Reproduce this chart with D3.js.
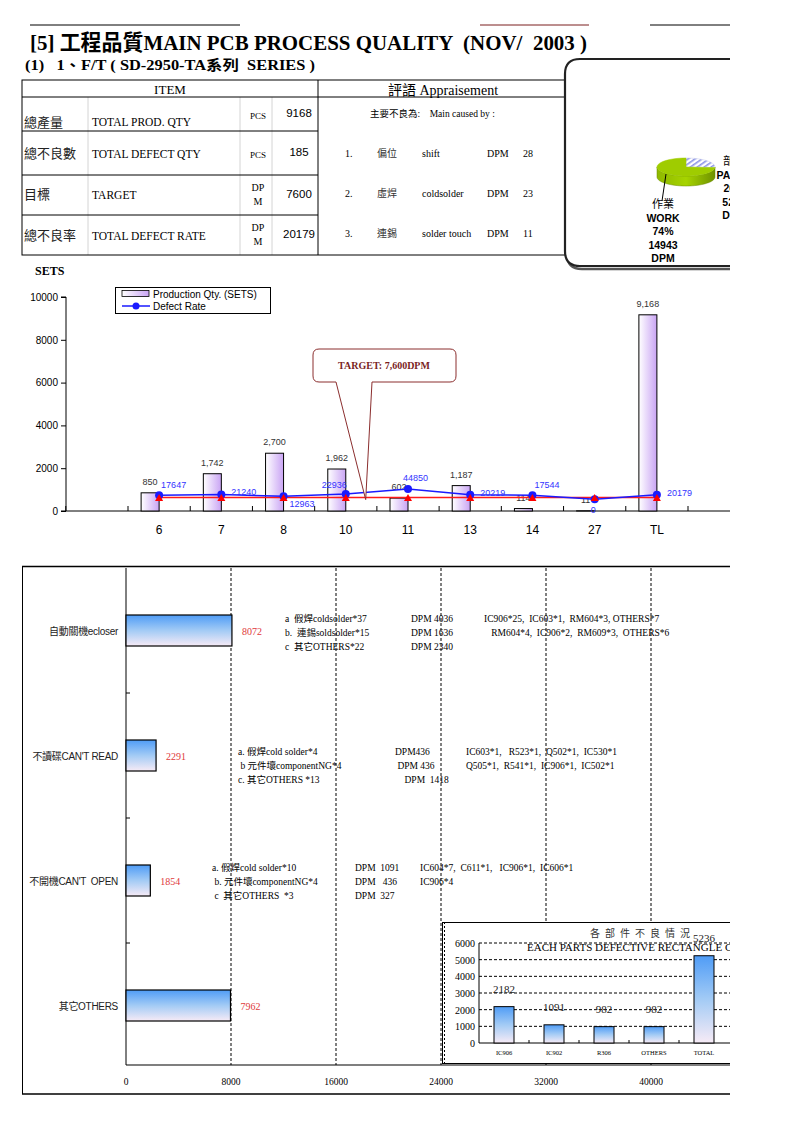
<!DOCTYPE html>
<html><head><meta charset="utf-8">
<script src="https://cdn.jsdelivr.net/npm/d3@7"></script>
<style>body{margin:0;background:#fff}svg{display:block}</style>
</head><body><svg id="c" width="793" height="1122"></svg>
<script>
// ---------- DATA ----------
const months = ["6","7","8","10","11","13","14","27","TL"];
const prodQty = [850,1742,2700,1962,602,1187,114,11,9168];
const defectRate = [17647,21240,12963,22936,44850,20219,17544,0,20179];
const targetDPM = [7600,7600,7600,7600,7600,7600,7600,7600,7600];
const qtyTicks = [0,2000,4000,6000,8000,10000];
const rateLabelSide = ["ur","r","br","ul","u","r","ur","b","r"];

const itemZh = ["總產量","總不良數","目標","總不良率"];
const itemEn = ["TOTAL PROD. QTY","TOTAL DEFECT QTY","TARGET","TOTAL DEFECT RATE"];
const itemUnit = ["PCS","PCS","DPM","DPM"];
const itemValue = ["9168","185","7600","20179"];
const causeZh = ["偏位","虛焊","連錫"];
const causeEn = ["shift","coldsolder","solder touch"];
const causeDPM = [28,23,11];

const pieNames = ["部件 PARTS","作業 WORK"];
const pieShare = [26,74];
const pieDPM = [5236,14943];

const failCats = ["自動關機ecloser","不讀碟CAN'T READ","不開機CAN'T  OPEN","其它OTHERS"];
const failDPM = [8072,2291,1854,7962];
const failTicks = [0,8000,16000,24000,32000,40000];

const partCats = ["IC906","IC902","R306","OTHERS","TOTAL"];
const partDPM = [2182,1091,982,982,5236];
const partTicks = [0,1000,2000,3000,4000,5000,6000];

const notes1 = [
  ["a  假焊coldsolder*37","DPM 4036","IC906*25,  IC603*1,  RM604*3, OTHERS*7"],
  ["b.  連錫soldsolder*15","DPM 1636","   RM604*4,  IC906*2,  RM609*3,  OTHERS*6"],
  ["c  其它OTHERS*22","DPM 2340",""]];
const notes2 = [
  ["a. 假焊cold solder*4","DPM436","IC603*1,   R523*1,  Q502*1,  IC530*1"],
  [" b 元件壞componentNG*4"," DPM 436","Q505*1,  R541*1,  IC906*1,  IC502*1"],
  ["c. 其它OTHERS *13","    DPM  1418",""]];
const notes3 = [
  ["a. 假焊cold solder*10","DPM  1091","IC604*7,  C611*1,   IC906*1,  IC606*1"],
  [" b. 元件壞componentNG*4","DPM   436","IC906*4"],
  [" c  其它OTHERS  *3","DPM  327",""]];

// ---------- SETUP ----------
const SERIF = "'Liberation Serif','Times New Roman','Noto Sans CJK TC',serif";
const SANS = "'Liberation Sans',Arial,'Noto Sans CJK TC',sans-serif";
const svg = d3.select("#c");
const defs = svg.append("defs");
defs.append("clipPath").attr("id","page").append("rect").attr("x",0).attr("y",0).attr("width",730).attr("height",1122);
defs.append("clipPath").attr("id","touch").append("rect").attr("x",300).attr("y",0).attr("width",182).attr("height",300);

const pg = defs.append("linearGradient").attr("id","purp").attr("x1",0).attr("y1",0).attr("x2",1).attr("y2",0);
pg.append("stop").attr("offset",0).attr("stop-color","#ffffff");
pg.append("stop").attr("offset",1).attr("stop-color","#c9a4f4");
const bg = defs.append("linearGradient").attr("id","blue").attr("x1",0).attr("y1",0).attr("x2",0).attr("y2",1);
bg.append("stop").attr("offset",0).attr("stop-color","#4f9cf6");
bg.append("stop").attr("offset",0.5).attr("stop-color","#a3cbf5");
bg.append("stop").attr("offset",1).attr("stop-color","#f7ebf6");
const gg = defs.append("linearGradient").attr("id","green").attr("x1",0).attr("y1",0).attr("x2",1).attr("y2",0);
gg.append("stop").attr("offset",0).attr("stop-color","#8fb800");
gg.append("stop").attr("offset",0.5).attr("stop-color","#a6d400");
gg.append("stop").attr("offset",1).attr("stop-color","#6f9200");
const hp = defs.append("pattern").attr("id","hatch").attr("patternUnits","userSpaceOnUse")
  .attr("width",4).attr("height",4).attr("patternTransform","rotate(-35)");
hp.append("rect").attr("width",4).attr("height",4).attr("fill","#fff");
hp.append("rect").attr("width",4).attr("height",1.6).attr("fill","#8b93e6");

const g = svg.append("g").attr("clip-path","url(#page)");
g.append("rect").attr("width",793).attr("height",1122).attr("fill","#fff");

// ---------- HEADER ----------
g.append("line").attr("x1",30).attr("x2",240).attr("y1",25).attr("y2",25).attr("stroke","#000");
g.append("line").attr("x1",480).attr("x2",589).attr("y1",25).attr("y2",25).attr("stroke","#7a1f1f");
g.append("line").attr("x1",650).attr("x2",730).attr("y1",25).attr("y2",25).attr("stroke","#000");
g.append("text").attr("x",30).attr("y",50).attr("font-family",SERIF).attr("font-weight","bold")
  .attr("font-size",21.5).attr("textLength",557).attr("lengthAdjust","spacingAndGlyphs").attr("xml:space","preserve")
  .text("[5] 工程品質MAIN PCB PROCESS QUALITY  (NOV/  2003 )");
g.append("text").attr("x",25).attr("y",70).attr("font-family",SERIF).attr("font-weight","bold")
  .attr("font-size",14).attr("textLength",290).attr("lengthAdjust","spacingAndGlyphs").attr("xml:space","preserve")
  .text("(1)   1、F/T ( SD-2950-TA系列  SERIES )");

// ---------- TABLE ----------
const rowY = [97,131,175,215,255];
const tbl = g.append("g");
[88,240,272].forEach(x=>tbl.append("line").attr("x1",x).attr("x2",x).attr("y1",97).attr("y2",255).attr("stroke","#d4d4d4"));
tbl.append("rect").attr("x",22).attr("y",80).attr("width",545).attr("height",175).attr("fill","none").attr("stroke","#000");
tbl.append("line").attr("x1",22).attr("x2",567).attr("y1",97).attr("y2",97).attr("stroke","#000");
tbl.append("line").attr("x1",318).attr("x2",318).attr("y1",80).attr("y2",255).attr("stroke","#000");
rowY.slice(1,4).forEach(y=>tbl.append("line").attr("x1",22).attr("x2",318).attr("y1",y).attr("y2",y).attr("stroke","#000"));
tbl.append("text").attr("x",170).attr("y",94).attr("text-anchor","middle").attr("font-family",SERIF).attr("font-size",13).text("ITEM");
tbl.append("text").attr("x",443).attr("y",95).attr("text-anchor","middle").attr("font-family",SERIF).attr("font-size",14).text("評語 Appraisement");
const zhY = [127,158,199,240], enY=[126,158,199,240], valY=[117,156,198,238];
itemZh.forEach((t,i)=>{
  tbl.append("text").attr("x",24).attr("y",zhY[i]).attr("font-family",SERIF).attr("font-size",13).attr("fill","#222").text(t);
  tbl.append("text").attr("x",92).attr("y",enY[i]).attr("font-family",SERIF).attr("font-size",11.5).text(itemEn[i]);
  if(itemUnit[i]==="PCS"){
    tbl.append("text").attr("x",258).attr("y",valY[i]+2).attr("text-anchor","middle").attr("font-family",SERIF).attr("font-size",9).text("PCS");
  } else {
    tbl.append("text").attr("x",258).attr("y",valY[i]-7).attr("text-anchor","middle").attr("font-family",SERIF).attr("font-size",10).text("DP");
    tbl.append("text").attr("x",258).attr("y",valY[i]+7).attr("text-anchor","middle").attr("font-family",SERIF).attr("font-size",10).text("M");
  }
  tbl.append("text").attr("x",299).attr("y",valY[i]).attr("text-anchor","middle").attr("font-family",SANS).attr("font-size",11.5).text(itemValue[i]);
});
tbl.append("text").attr("x",370).attr("y",117).attr("font-family",SERIF).attr("font-size",9.5).attr("xml:space","preserve").text("主要不良為:    Main caused by :");
const cY=[157,197,237];
causeZh.forEach((t,i)=>{
  tbl.append("text").attr("x",345).attr("y",cY[i]).attr("font-family",SERIF).attr("font-size",10).text((i+1)+".");
  tbl.append("text").attr("x",377).attr("y",cY[i]).attr("font-family",SERIF).attr("font-size",10).attr("fill","#333").text(t);
  tbl.append("text").attr("x",422).attr("y",cY[i]).attr("font-family",SERIF).attr("font-size",10).attr("clip-path","url(#touch)").text(causeEn[i]);
  tbl.append("text").attr("x",487).attr("y",cY[i]).attr("font-family",SERIF).attr("font-size",10).text("DPM");
  tbl.append("text").attr("x",523).attr("y",cY[i]).attr("font-family",SERIF).attr("font-size",10).text(causeDPM[i]);
});

// ---------- PIE BOX ----------
const boxPath = "M565,74 Q565,59 580,59 L800,59 L800,266 L580,266 Q565,266 565,251 Z";
g.append("path").attr("d",boxPath).attr("transform","translate(2,3)").attr("fill","none").attr("stroke","#555").attr("stroke-width",2.5);
g.append("path").attr("d",boxPath).attr("fill","#fff").attr("stroke","#222").attr("stroke-width",2.2);

const pcx=686, pcy=167, prx=29, pry=9, pdep=10;
const arcs = d3.pie().sort(null).value(d=>d)(pieShare);
const ept = (a,dy)=>[pcx+prx*Math.sin(a), pcy-pry*Math.cos(a)+(dy||0)];
{
  const pts=[];
  for(let a=Math.PI/2;a<=Math.PI*1.5+1e-6;a+=Math.PI/60) pts.push(ept(a,0));
  const bot=[];
  for(let a=Math.PI*1.5;a>=Math.PI/2-1e-6;a-=Math.PI/60) bot.push(ept(a,pdep));
  g.append("path").attr("d","M"+pts.map(p=>p.join(",")).join("L")+"L"+bot.map(p=>p.join(",")).join("L")+"Z")
   .attr("fill","url(#green)").attr("stroke","#6a8a00").attr("stroke-width",0.5);
}
arcs.forEach((a,i)=>{
  const pts=[[pcx,pcy]];
  const n=40;
  for(let k=0;k<=n;k++){const t=a.startAngle+(a.endAngle-a.startAngle)*k/n; pts.push(ept(t));}
  g.append("path").attr("d","M"+pts.map(p=>p.join(",")).join("L")+"Z")
   .attr("fill", i===0?"url(#hatch)":"#9fcc00").attr("stroke", i===0?"#c7cbe8":"#9fcc00").attr("stroke-width",0.5);
});
g.append("line").attr("x1",662).attr("y1",201).attr("x2",666).attr("y2",174).attr("stroke","#000");
const pieLbl = (x,y,i)=>{
  const parts = pieNames[i].split(" ");
  const lines = [[parts[0],"normal"],[parts[1],"bold"],[pieShare[i]+"%","bold"],[String(pieDPM[i]),"bold"],["DPM","bold"]];
  lines.forEach((l,k)=>g.append("text").attr("x",x).attr("y",y+k*13.5).attr("text-anchor","middle")
    .attr("font-family",SANS).attr("font-size",k===0?11:10.5).attr("font-weight",l[1]).text(l[0]));
};
pieLbl(663,208,1);
pieLbl(734,165,0);

// ---------- MIDDLE CHART ----------
const xM = d3.scaleBand().domain(months).range([128,688]).padding(0);
const stepM = xM.step();
const yM = d3.scaleLinear().domain([0,10000]).range([511,297]);
const yR = d3.scaleLinear().domain([-50000,870000]).range([511,297]);
const mc = g.append("g");
mc.append("text").attr("x",35).attr("y",275).attr("font-family",SERIF).attr("font-weight","bold").attr("font-size",12).text("SETS");
const yAx = mc.append("g").attr("transform","translate(66,0)").call(d3.axisLeft(yM).tickValues(qtyTicks).tickSize(5).tickFormat(d3.format("d")));
yAx.selectAll("text").attr("font-family",SANS).attr("font-size",10).attr("fill","#000");
yAx.select(".domain").attr("d","M-5,297H0V511H-5").attr("stroke","#000");
mc.append("line").attr("x1",66).attr("x2",730).attr("y1",511).attr("y2",511).attr("stroke","#000");
for(let i=-1;i<=months.length+1;i++){
  const bx = xM.range()[0]+i*stepM;
  mc.append("line").attr("x1",bx).attr("x2",bx).attr("y1",511).attr("y2",506).attr("stroke","#000");
}
months.forEach(m=>mc.append("text").attr("x",xM(m)+stepM/2).attr("y",534).attr("text-anchor","middle")
  .attr("font-family",SANS).attr("font-size",12).text(m));
const barW=18;
mc.selectAll(".pb").data(prodQty).join("rect")
  .attr("x",(d,i)=>xM(months[i])+stepM/2-barW).attr("width",barW)
  .attr("y",d=>yM(d)).attr("height",d=>yM(0)-yM(d))
  .attr("fill","url(#purp)").attr("stroke","#000").attr("stroke-width",1);
mc.selectAll(".pl").data(prodQty).join("text")
  .attr("x",(d,i)=>xM(months[i])+stepM/2-barW/2).attr("y",d=>yM(d)-8).attr("text-anchor","middle")
  .attr("font-family",SANS).attr("font-size",9).attr("fill","#333").text(d=>d3.format(",")(d));
const cxM = (i)=>xM(months[i])+stepM/2;
mc.append("path").datum(targetDPM).attr("d",d3.line().x((d,i)=>cxM(i)).y(d=>yR(d)))
  .attr("fill","none").attr("stroke","#ff1a1a").attr("stroke-width",1.5);
mc.append("path").datum(defectRate).attr("d",d3.line().x((d,i)=>cxM(i)).y(d=>yR(d)))
  .attr("fill","none").attr("stroke","#1a1aff").attr("stroke-width",1.5);
mc.selectAll(".dc").data(defectRate).join("circle").attr("cx",(d,i)=>cxM(i)).attr("cy",d=>yR(d)).attr("r",4).attr("fill","#1a1aff");
mc.selectAll(".tt").data(targetDPM).join("path")
  .attr("transform",(d,i)=>`translate(${cxM(i)},${yR(d)+1})`)
  .attr("d",d3.symbol(d3.symbolTriangle,28)).attr("fill","#ff0000");
const off = {ur:[2,-10,"start"], r:[10,-2,"start"], br:[6,8,"start"], ul:[-24,-9,"start"], u:[-5,-11,"start"], b:[-4,11,"start"]};
mc.selectAll(".dl").data(defectRate).join("text")
  .attr("x",(d,i)=>cxM(i)+off[rateLabelSide[i]][0]).attr("y",(d,i)=>yR(d)+off[rateLabelSide[i]][1]+3)
  .attr("font-family",SANS).attr("font-size",9).attr("fill","#3333ff").text(d=>d);
const lg = mc.append("g");
lg.append("rect").attr("x",115.5).attr("y",287.5).attr("width",155).attr("height",26).attr("fill","#fff").attr("stroke","#000");
lg.append("rect").attr("x",122).attr("y",290.5).attr("width",27).attr("height",6).attr("fill","url(#purp)").attr("stroke","#000").attr("stroke-width",0.8);
lg.append("text").attr("x",153).attr("y",297.5).attr("font-family",SANS).attr("font-size",10).text("Production Qty. (SETS)");
lg.append("line").attr("x1",122).attr("x2",150).attr("y1",306).attr("y2",306).attr("stroke","#1a1aff").attr("stroke-width",1.5);
lg.append("circle").attr("cx",136).attr("cy",306).attr("r",3.5).attr("fill","#1a1aff");
lg.append("text").attr("x",153).attr("y",310).attr("font-family",SANS).attr("font-size",10).text("Defect Rate");
const tipX = cxM(3)+stepM*0.32, tipY = yR(targetDPM[0])+2;
mc.append("path").attr("d",`M336,381 L${tipX},${tipY} L372,381 Z`).attr("fill","#fff").attr("stroke","none");
mc.append("path").attr("d",`M336,382 L${tipX},${tipY} L372,382`).attr("fill","none").attr("stroke","#8b2e2e").attr("stroke-width",1);
mc.append("path").attr("d","M336,382 L319,382 Q313,382 313,376 L313,355 Q313,349 319,349 L450,349 Q456,349 456,355 L456,376 Q456,382 450,382 L372,382")
  .attr("fill","none").attr("stroke","#8b2e2e").attr("stroke-width",1);
mc.append("text").attr("x",384).attr("y",369).attr("text-anchor","middle").attr("font-family",SERIF).attr("font-weight","bold")
  .attr("font-size",10).attr("fill","#7a1f1f").text("TARGET: 7,600DPM");

// ---------- BOTTOM CHART ----------
const xF = d3.scaleLinear().domain([0,48000]).range([126,756]);
const yF = d3.scaleBand().domain(failCats).range([568,1068]);
const bc = g.append("g");
bc.append("line").attr("x1",22).attr("x2",730).attr("y1",566.5).attr("y2",566.5).attr("stroke","#000").attr("stroke-width",1.5);
bc.append("line").attr("x1",22.5).attr("x2",22.5).attr("y1",566).attr("y2",1094).attr("stroke","#000");
bc.append("line").attr("x1",22).attr("x2",730).attr("y1",1094).attr("y2",1094).attr("stroke","#000").attr("stroke-width",1.5);
failTicks.slice(1).concat([48000]).forEach(t=>bc.append("line").attr("x1",xF(t)).attr("x2",xF(t)).attr("y1",568).attr("y2",1065)
  .attr("stroke","#000").attr("stroke-dasharray","3,2"));
bc.append("line").attr("x1",126).attr("x2",126).attr("y1",568).attr("y2",1065).attr("stroke","#000");
bc.append("line").attr("x1",126).attr("x2",730).attr("y1",1065).attr("y2",1065).attr("stroke","#000").attr("stroke-width",1.2);
failCats.slice(1).forEach(c=>bc.append("line").attr("x1",126).attr("x2",130).attr("y1",yF(c)).attr("y2",yF(c)).attr("stroke","#000"));
failTicks.forEach(t=>bc.append("text").attr("x",xF(t)).attr("y",1085).attr("text-anchor","middle").attr("font-family",SERIF).attr("font-size",9.5).text(t));
const bh=31;
bc.selectAll(".fb").data(failDPM).join("rect")
  .attr("x",xF(0)).attr("y",(d,i)=>yF(failCats[i])+yF.bandwidth()/2-bh/2)
  .attr("width",d=>xF(d)-xF(0)).attr("height",bh).attr("fill","url(#blue)").attr("stroke","#000").attr("stroke-width",1.2);
bc.selectAll(".fv").data(failDPM).join("text")
  .attr("x",d=>xF(d)+10).attr("y",(d,i)=>yF(failCats[i])+yF.bandwidth()/2+4)
  .attr("font-family",SERIF).attr("font-size",10).attr("fill","#e03a3a").text(d=>d);
failCats.forEach((c,i)=>bc.append("text").attr("x",118).attr("y",yF(c)+yF.bandwidth()/2+4).attr("text-anchor","end")
  .attr("font-family",SANS).attr("font-size",10).attr("letter-spacing","-0.3").attr("fill","#222").attr("xml:space","preserve").text(c));
const drawNotes = (rows, xs, y0)=>{
  rows.forEach((r,k)=>r.forEach((t,j)=>{ if(!t) return;
    bc.append("text").attr("x",xs[j]).attr("y",y0+k*14).attr("font-family",SERIF).attr("font-size",9.5)
      .attr("xml:space","preserve").text(t);}));
};
drawNotes(notes1,[285,411,484],622);
drawNotes(notes2,[238,395,466],755);
drawNotes(notes3,[212,355,420],871);

// ---------- INSET ----------
const xP = d3.scaleBand().domain(partCats).range([479,729]);
const yP = d3.scaleLinear().domain([0,6000]).range([1043,943]);
const ic = g.append("g");
ic.append("rect").attr("x",442.5).attr("y",922.5).attr("width",320).attr("height",141).attr("fill","#fff").attr("stroke","#000");
ic.append("line").attr("x1",444.5).attr("x2",444.5).attr("y1",922).attr("y2",1063).attr("stroke","#000").attr("stroke-dasharray","2,2");
partTicks.slice(1).forEach(t=>ic.append("line").attr("x1",479).attr("x2",730).attr("y1",yP(t)).attr("y2",yP(t))
  .attr("stroke","#000").attr("stroke-dasharray","3,2"));
ic.append("line").attr("x1",479).attr("x2",479).attr("y1",943).attr("y2",1043).attr("stroke","#000");
ic.append("line").attr("x1",479).attr("x2",730).attr("y1",1043).attr("y2",1043).attr("stroke","#000");
partCats.forEach((c,i)=>{ if(i>0) ic.append("line").attr("x1",xP(c)).attr("x2",xP(c)).attr("y1",1043).attr("y2",1040).attr("stroke","#000");});
partTicks.forEach(t=>ic.append("text").attr("x",475).attr("y",yP(t)+4).attr("text-anchor","end").attr("font-family",SERIF).attr("font-size",10).text(t));
ic.append("text").attr("x",590).attr("y",937).attr("font-family",SERIF).attr("font-size",10).attr("letter-spacing","5").attr("fill","#333").text("各部件不良情況");
ic.append("text").attr("x",527).attr("y",951).attr("font-family",SERIF).attr("font-size",11).text("EACH PARTS DEFECTIVE RECTANGLE CHART");
ic.selectAll(".ib").data(partDPM).join("rect")
  .attr("x",(d,i)=>xP(partCats[i])+xP.bandwidth()/2-10).attr("width",20)
  .attr("y",d=>yP(d)).attr("height",d=>yP(0)-yP(d)).attr("fill","url(#blue)").attr("stroke","#000").attr("stroke-width",1);
ic.selectAll(".il").data(partDPM).join("text")
  .attr("x",(d,i)=>xP(partCats[i])+xP.bandwidth()/2).attr("y",d=>yP(d)-14).attr("text-anchor","middle")
  .attr("font-family",SERIF).attr("font-size",11).attr("fill","#222").text(d=>d);
partCats.forEach(c=>ic.append("text").attr("x",xP(c)+xP.bandwidth()/2).attr("y",1055).attr("text-anchor","middle")
  .attr("font-family",SERIF).attr("font-size",6.5).text(c));
</script></body></html>
